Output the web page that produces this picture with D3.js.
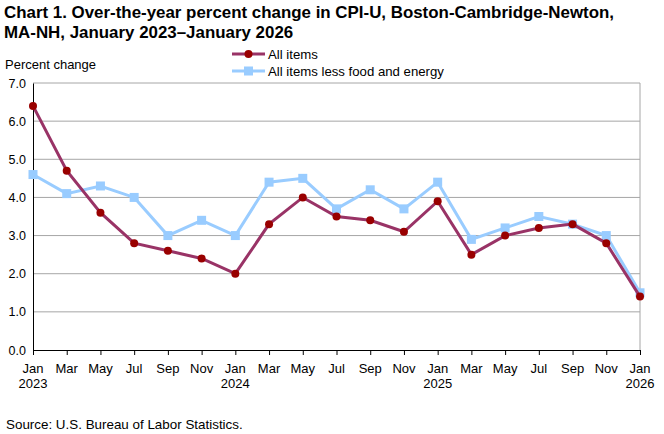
<!DOCTYPE html>
<html>
<head>
<meta charset="utf-8">
<script src="https://cdn.jsdelivr.net/npm/d3@7"></script>
<style>
body { margin: 0; background: #fff; }
text { font-family: "Liberation Sans", Arial, sans-serif; fill: #000; }
</style>
</head>
<body>
<div id="chart"></div>
<script>
const months = ['Jan', 'Mar', 'May', 'Jul', 'Sep', 'Nov', 'Jan', 'Mar', 'May', 'Jul', 'Sep', 'Nov', 'Jan', 'Mar', 'May', 'Jul', 'Sep', 'Nov', 'Jan'];
const years = ['2023', '', '', '', '', '', '2024', '', '', '', '', '', '2025', '', '', '', '', '', '2026'];
const allItems = [6.4, 4.7, 3.6, 2.8, 2.6, 2.4, 2.0, 3.3, 4.0, 3.5, 3.4, 3.1, 3.9, 2.5, 3.0, 3.2, 3.3, 2.8, 1.4];
const lessFoodEnergy = [4.6, 4.1, 4.3, 4.0, 3.0, 3.4, 3.0, 4.4, 4.5, 3.7, 4.2, 3.7, 4.4, 2.9, 3.2, 3.5, 3.3, 3.0, 1.5];
const yTicks = [0, 1, 2, 3, 4, 5, 6, 7];

const width = 664, height = 434;
const m = { left: 33, right: 24, top: 83, bottom: 84 };

const svg = d3.select('#chart').append('svg')
  .attr('width', width).attr('height', height);

const x = d3.scaleLinear().domain([0, months.length - 1]).range([m.left, width - m.right]);
const y = d3.scaleLinear().domain([0, 7]).range([height - m.bottom, m.top]);

// title
svg.append('text').attr('x', 4).attr('y', 18)
  .style('font-size', '16.9px').style('font-weight', 'bold')
  .text('Chart 1. Over-the-year percent change in CPI-U, Boston-Cambridge-Newton,');
svg.append('text').attr('x', 4).attr('y', 38)
  .style('font-size', '16.9px').style('font-weight', 'bold')
  .text('MA-NH, January 2023\u2013January 2026');

svg.append('text').attr('x', 5).attr('y', 69).style('font-size', '13px').text('Percent change');

// grid
svg.append('g').selectAll('line').data(yTicks.filter(d => d > 0)).join('line')
  .attr('x1', m.left).attr('x2', width - m.right)
  .attr('y1', d => y(d)).attr('y2', d => y(d))
  .attr('stroke', '#a6a6a6').attr('stroke-width', 1);
svg.append('line')
  .attr('x1', width - m.right).attr('x2', width - m.right)
  .attr('y1', y(7)).attr('y2', y(0))
  .attr('stroke', '#a6a6a6');

// y axis
const yAxis = svg.append('g').attr('transform', `translate(${m.left},0)`)
  .call(d3.axisLeft(y).tickValues(yTicks).tickFormat(d3.format('.1f')).tickSize(0).tickPadding(7));
yAxis.select('.domain').attr('stroke', '#000');
yAxis.selectAll('text').style('font-size', '12.5px').attr('font-family', null);

// x axis
const xAxis = svg.append('g').attr('transform', `translate(0,${y(0)})`)
  .call(d3.axisBottom(x).tickValues(d3.range(months.length)).tickFormat('').tickSize(5).tickSizeOuter(0));
xAxis.selectAll('.domain, line').attr('stroke', '#000');

const lbl = svg.append('g').selectAll('text').data(months).join('text')
  .attr('x', (d, i) => x(i)).attr('y', y(0) + 23)
  .attr('text-anchor', 'middle').style('font-size', '13px');
lbl.append('tspan').attr('x', (d, i) => x(i)).text(d => d);
lbl.append('tspan').attr('x', (d, i) => x(i)).attr('dy', 15).text((d, i) => years[i]);

// lines
const line = d3.line().x((d, i) => x(i)).y(d => y(d));

svg.append('path').datum(lessFoodEnergy).attr('d', line)
  .attr('fill', 'none').attr('stroke', '#99ccff').attr('stroke-width', 3);
svg.append('g').selectAll('rect').data(lessFoodEnergy).join('rect')
  .attr('x', (d, i) => x(i) - 4.5).attr('y', d => y(d) - 4.5)
  .attr('width', 9).attr('height', 9).attr('fill', '#99ccff');

svg.append('path').datum(allItems).attr('d', line)
  .attr('fill', 'none').attr('stroke', '#993366').attr('stroke-width', 3);
svg.append('g').selectAll('circle').data(allItems).join('circle')
  .attr('cx', (d, i) => x(i)).attr('cy', d => y(d)).attr('r', 4)
  .attr('fill', '#990000');

// legend
const legend = [
  { name: 'All items', line: '#993366', mark: '#990000', shape: 'circle' },
  { name: 'All items less food and energy', line: '#99ccff', mark: '#99ccff', shape: 'rect' }
];
const lg = svg.append('g').selectAll('g').data(legend).join('g')
  .attr('transform', (d, i) => `translate(232,${54 + i * 17})`);
lg.append('line').attr('x1', 0).attr('x2', 33).attr('stroke', d => d.line).attr('stroke-width', 3);
lg.filter(d => d.shape === 'circle').append('circle').attr('cx', 16.5).attr('r', 4).attr('fill', d => d.mark);
lg.filter(d => d.shape === 'rect').append('rect').attr('x', 12).attr('y', -4.5).attr('width', 9).attr('height', 9).attr('fill', d => d.mark);
lg.append('text').attr('x', 36).attr('y', 4.5).style('font-size', '13.2px').text(d => d.name);

svg.append('text').attr('x', 6).attr('y', 429).style('font-size', '13.4px')
  .text('Source: U.S. Bureau of Labor Statistics.');
</script>
</body>
</html>
